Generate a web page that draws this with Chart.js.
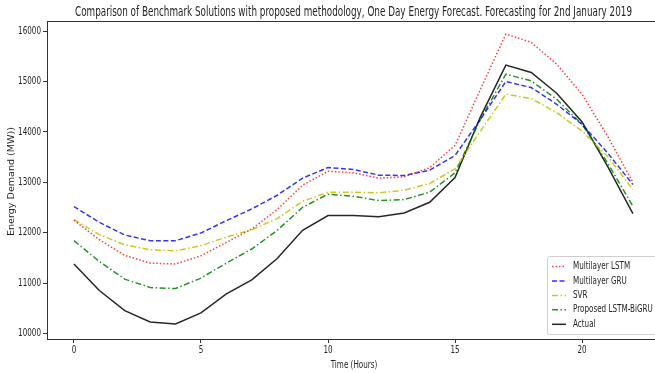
<!DOCTYPE html>
<html>
<head>
<meta charset="utf-8">
<script src="https://cdn.jsdelivr.net/npm/chart.js@4/dist/chart.umd.min.js"></script>
<style>
  html, body { margin: 0; padding: 0; background: #fff; overflow: hidden; }
  #wrap { width: 655px; height: 373px; }
</style>
</head>
<body>
<div id="wrap"><canvas id="energyChart" width="655" height="373"></canvas></div>
<script>
// hours 0..22
const hours = [0, 1, 2, 3, 4, 5, 6, 7, 8, 9, 10, 11, 12, 13, 14, 15, 16, 17, 18, 19, 20, 21, 22];

const lstm = [12249, 11865, 11553, 11402, 11382, 11547, 11811, 12078, 12461, 12946, 13222, 13190, 13084, 13111, 13290, 13734, 14847, 15940, 15775, 15344, 14748, 13920, 13005];
const gru = [12521, 12209, 11958, 11845, 11845, 11998, 12243, 12475, 12746, 13084, 13296, 13256, 13144, 13137, 13243, 13535, 14250, 15000, 14880, 14549, 14151, 13588, 12958];
const svr = [12262, 11964, 11765, 11666, 11646, 11746, 11918, 12064, 12282, 12627, 12806, 12806, 12793, 12846, 12978, 13270, 14018, 14748, 14662, 14383, 14018, 13521, 12859];
const proposed = [11845, 11434, 11084, 10917, 10897, 11104, 11402, 11680, 12050, 12508, 12766, 12726, 12640, 12660, 12806, 13191, 14250, 15145, 15012, 14648, 14151, 13390, 12527];
const actual = [11382, 10857, 10459, 10235, 10195, 10414, 10791, 11070, 11493, 12050, 12342, 12342, 12322, 12395, 12607, 13097, 14300, 15324, 15179, 14767, 14197, 13322, 12382];

const yTicks = [10000, 11000, 12000, 13000, 14000, 15000, 16000];
const xTicks = [0, 5, 10, 15, 20];

const titleText = 'Comparison of Benchmark Solutions with proposed methodology, One Day Energy Forecast. Forecasting for 2nd January 2019';
const xTitle = 'Time (Hours)';
const yTitle = 'Energy Demand (MW))';
const textColor = '#262626';
const squeeze = 0.72; // the original figure was squashed sideways

function pts(vals) {
  return vals.map((v, i) => ({ x: hours[i], y: v }));
}

function series(label, vals, color, dash) {
  return {
    label, data: pts(vals), borderColor: color, borderDash: dash,
    borderWidth: 1.5, pointRadius: 0, fill: false, tension: 0,
  };
}

// text drawn narrower than the font, like the reference
function narrowText(ctx, text, x, y, size, align, sx) {
  ctx.save();
  ctx.font = size + 'px "DejaVu Sans"';
  ctx.textBaseline = 'middle';
  ctx.textAlign = align;
  ctx.translate(x, y);
  ctx.scale(sx, 1);
  ctx.fillText(text, 0, 0);
  ctx.restore();
}

const framePlugin = {
  id: 'frame',
  afterDraw(chart) {
    const { ctx, chartArea: a } = chart;
    const xs = chart.scales.x, ys = chart.scales.y;
    ctx.save();
    ctx.strokeStyle = '#333';
    ctx.lineWidth = 1;
    ctx.strokeRect(a.left + 0.5, a.top + 0.5, a.right - a.left + 5, a.bottom - a.top);
    ctx.fillStyle = textColor;

    // title, fitted to the width it has in the picture
    ctx.font = '13.5px "DejaVu Sans"';
    const tw = ctx.measureText(titleText).width;
    narrowText(ctx, titleText, 353.5, 12, 13.5, 'center', 557 / tw);

    // tick labels
    yTicks.forEach((v) => narrowText(ctx, String(v), a.left - 6, ys.getPixelForValue(v), 10, 'right', squeeze));
    xTicks.forEach((v) => narrowText(ctx, String(v), xs.getPixelForValue(v), a.bottom + 11, 10, 'center', squeeze));

    // axis titles
    narrowText(ctx, xTitle, 354, 365, 10, 'center', squeeze);
    ctx.save();
    ctx.font = '10px "DejaVu Sans"';
    const yw = ctx.measureText(yTitle).width;
    ctx.translate(11.5, 181.5);
    ctx.rotate(-Math.PI / 2);
    ctx.scale(109 / yw, squeeze + 0.1);
    ctx.textAlign = 'center';
    ctx.textBaseline = 'middle';
    ctx.fillText(yTitle, 0, 0);
    ctx.restore();

    // legend
    const lx = 547, ly = 256, lw = 115, lh = 78;
    ctx.fillStyle = 'rgba(255,255,255,0.85)';
    ctx.strokeStyle = '#d0d0d0';
    ctx.beginPath();
    ctx.roundRect(lx + 0.5, ly + 0.5, lw, lh, 2);
    ctx.fill();
    ctx.stroke();
    chart.data.datasets.forEach((ds, i) => {
      const y = ly + 10.5 + i * 14.45;
      ctx.strokeStyle = ds.borderColor;
      ctx.lineWidth = ds.borderWidth;
      ctx.setLineDash(ds.borderDash || []);
      ctx.beginPath();
      ctx.moveTo(lx + 5, y);
      ctx.lineTo(lx + 19, y);
      ctx.stroke();
      ctx.setLineDash([]);
      ctx.fillStyle = textColor;
      narrowText(ctx, ds.label, lx + 26, y, 10, 'left', squeeze);
    });
    ctx.restore();
  },
};

new Chart(document.getElementById('energyChart'), {
  type: 'line',
  data: {
    datasets: [
      series('Multilayer LSTM', lstm, 'rgba(255,0,0,0.75)', [1.5, 2]),
      series('Multilayer GRU', gru, 'rgba(0,0,255,0.8)', [5, 2.5]),
      series('SVR', svr, 'rgba(191,191,0,0.85)', [6, 2.5, 1.5, 2.5]),
      series('Proposed LSTM-BiGRU', proposed, 'rgba(0,128,0,0.85)', [6, 2.5, 1.5, 2.5]),
      series('Actual', actual, 'rgba(0,0,0,0.85)', []),
    ],
  },
  options: {
    responsive: false,
    animation: false,
    layout: { padding: { top: 21, left: 0, right: 0, bottom: 0 } },
    plugins: { legend: { display: false }, tooltip: { enabled: false }, title: { display: false } },
    scales: {
      x: {
        type: 'linear',
        min: -1.06,
        max: 22.87,
        afterBuildTicks: (s) => { s.ticks = xTicks.map((v) => ({ value: v })); },
        afterFit: (s) => { s.height = 34; },
        grid: { drawOnChartArea: false, drawTicks: true, tickLength: 4, color: '#333' },
        border: { display: true, color: '#333' },
        ticks: { display: false },
      },
      y: {
        min: 9897,
        max: 16199,
        afterBuildTicks: (s) => { s.ticks = yTicks.map((v) => ({ value: v })); },
        afterFit: (s) => { s.width = 47; },
        grid: { drawOnChartArea: false, drawTicks: true, tickLength: 4, color: '#333' },
        border: { display: true, color: '#333' },
        ticks: { display: false },
      },
    },
  },
  plugins: [framePlugin],
});
</script>
</body>
</html>
